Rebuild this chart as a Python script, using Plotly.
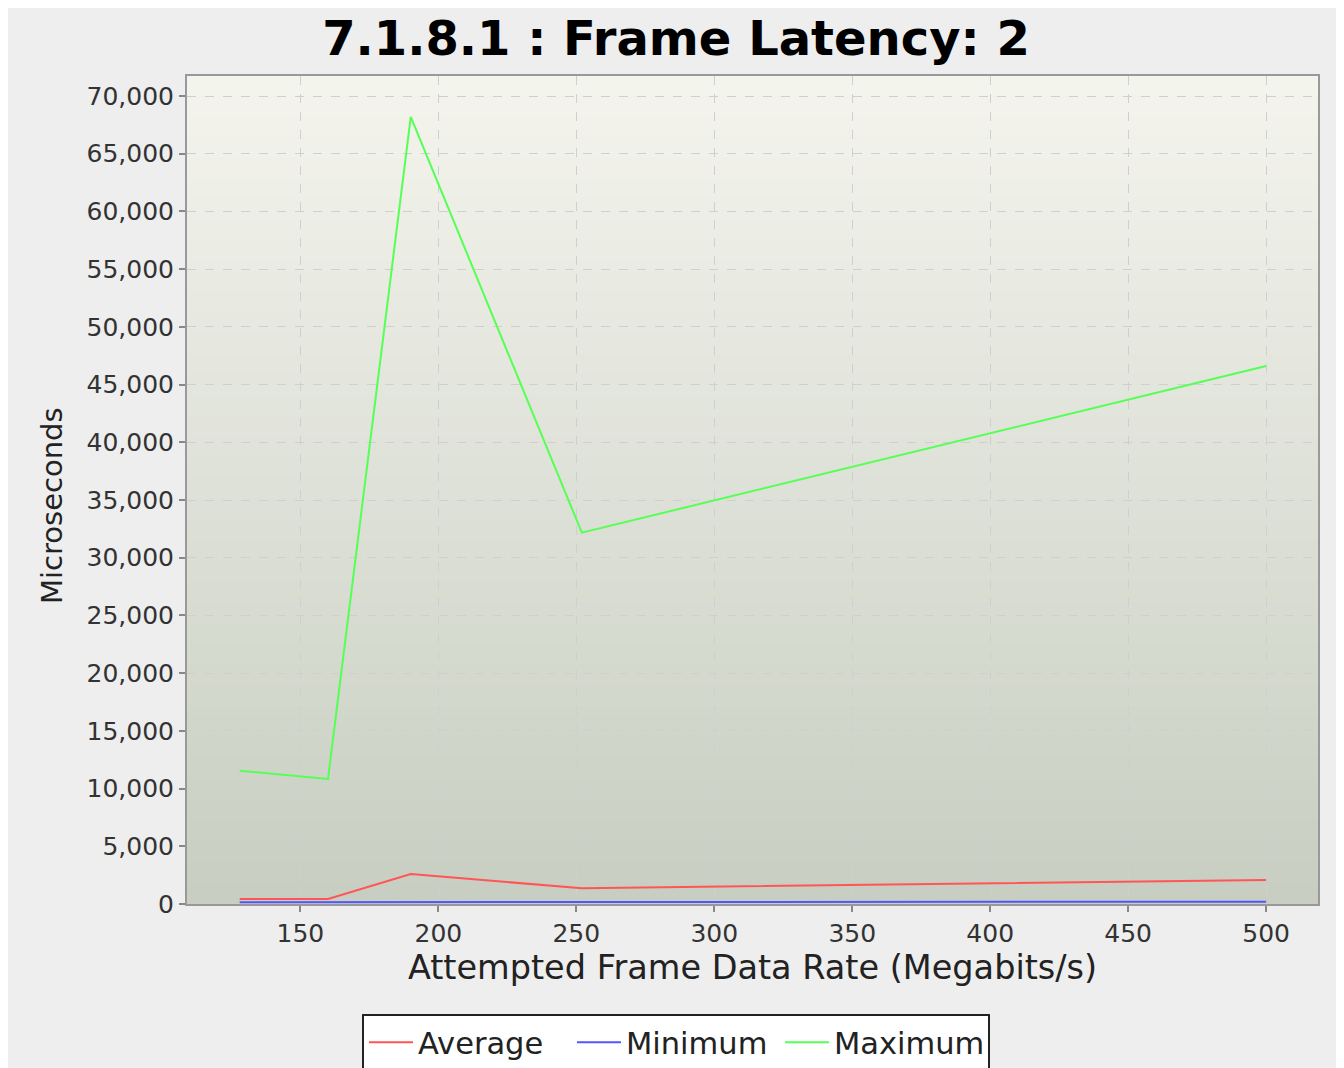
import plotly.graph_objects as go

# attempted frame data rate (Megabits/s)
rate = [128, 160, 190, 252, 500]

# latency in microseconds
average = [430, 430, 2600, 1360, 2080]
minimum = [150, 150, 170, 170, 200]
maximum = [11550, 10830, 68200, 32170, 46610]

x_ticks = [150, 200, 250, 300, 350, 400, 450, 500]
y_ticks = list(range(0, 70001, 5000))

# page has an 8px body margin, so the figure is a bit smaller than the window
W, H = 1336, 1060
ML, MR, MT, MB = 179, 26, 68, 164
PW = W - ML - MR
PH = H - MT - MB

FONT = "DejaVu Sans"

fig = go.Figure()
fig.add_trace(go.Scatter(x=rate, y=average, mode='lines', name='Average',
                         line=dict(color='#ff5555', width=2)))
fig.add_trace(go.Scatter(x=rate, y=minimum, mode='lines', name='Minimum',
                         line=dict(color='#5555ff', width=2)))
fig.add_trace(go.Scatter(x=rate, y=maximum, mode='lines', name='Maximum',
                         line=dict(color='#55ff55', width=2)))

# vertical gradient behind the plot area, built from thin bands
top_rgb = (244, 244, 237)
bot_rgb = (200, 206, 193)
n_bands = 80
shapes = []
for i in range(n_bands):
    t = i / (n_bands - 1)
    c = tuple(round(top_rgb[k] + (bot_rgb[k] - top_rgb[k]) * t) for k in range(3))
    shapes.append(dict(type='rect', xref='paper', yref='paper', layer='below',
                       x0=0, x1=1, y0=1 - (i + 1) / n_bands, y1=1 - i / n_bands + 0.002,
                       fillcolor='rgb(%d,%d,%d)' % c, line=dict(width=0)))

fig.update_layout(
    width=W, height=H,
    margin=dict(l=ML, r=MR, t=MT, b=MB),
    paper_bgcolor='#eeeeee',
    plot_bgcolor='rgba(0,0,0,0)',
    shapes=shapes,
    font=dict(family=FONT, color='#222222'),
    title=dict(text='<b>7.1.8.1 : Frame Latency: 2</b>',
               font=dict(family=FONT, size=48, color='black'),
               x=0.5, xref='container', xanchor='center',
               y=1 - 30 / H, yref='container', yanchor='middle'),
    xaxis=dict(
        range=[108.9, 518.8],
        tickvals=x_ticks,
        ticks='outside', ticklen=6, tickwidth=2, tickcolor='#888888',
        tickfont=dict(size=25, color='#333333'),
        showline=True, linewidth=2, linecolor='#999999', mirror=True,
        showgrid=True, gridcolor='#cfcfcf', griddash='dash', gridwidth=1,
        zeroline=False,
        title=dict(text='Attempted Frame Data Rate (Megabits/s)',
                   font=dict(size=33.5, color='#222222'), standoff=6),
    ),
    yaxis=dict(
        range=[0, 71733],
        tickvals=y_ticks,
        tickformat=',d',
        ticks='outside', ticklen=6, tickwidth=2, tickcolor='#888888',
        tickfont=dict(size=25, color='#333333'),
        showline=True, linewidth=2, linecolor='#999999', mirror=True,
        showgrid=True, gridcolor='#cfcfcf', griddash='dash', gridwidth=1,
        zeroline=False,
    ),
    annotations=[dict(
        text='Microseconds', textangle=-90, showarrow=False,
        xref='paper', yref='paper',
        x=(44 - ML) / PW, y=(H - MB - 498) / PH,
        xanchor='center', yanchor='middle',
        font=dict(size=29, color='#222222'),
    )],
    showlegend=True,
    legend=dict(
        orientation='h',
        x=0.5, xref='container', xanchor='center',
        y=1 - 1006 / H, yref='container', yanchor='top',
        bgcolor='white', bordercolor='#222222', borderwidth=2,
        font=dict(size=30.5, color='#222222'),
        itemwidth=44,
        entrywidth=149,
        traceorder='normal',
    ),
)

fig.write_html("out.html")
